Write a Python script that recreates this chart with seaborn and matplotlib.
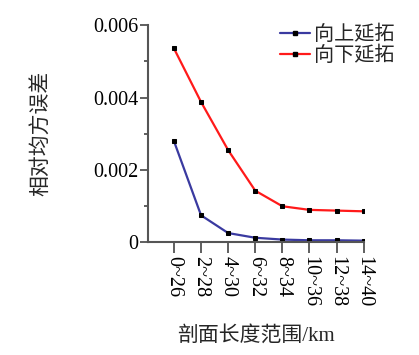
import pandas as pd
import matplotlib.pyplot as plt
import matplotlib.ticker as mticker
from matplotlib.lines import Line2D
import seaborn as sns

# data
ranges = ['0~26', '2~28', '4~30', '6~32', '8~34', '10~36', '12~38', '14~40']
upward = [0.00280, 0.00075, 0.00026, 0.00013, 0.00008, 0.00006, 0.00006, 0.00005]
downward = [0.00536, 0.00388, 0.00255, 0.00143, 0.00100, 0.00090, 0.00088, 0.00086]
series_names = ['向上延拓', '向下延拓']
y_ticks = [0, 0.002, 0.004, 0.006]
y_tick_labels = ['0', '0.002', '0.004', '0.006']

df = pd.DataFrame({
    'pos': list(range(len(ranges))) * 2,
    'err': upward + downward,
    'series': [series_names[0]] * len(ranges) + [series_names[1]] * len(ranges),
})

sns.set_theme(style="ticks")
plt.rcParams['font.family'] = ['Liberation Serif', 'Noto Sans CJK SC']
plt.rcParams['axes.unicode_minus'] = False

fig = plt.figure(figsize=(4.19, 3.55), dpi=100)
ax = fig.add_axes([0.353, 0.317, 0.515, 0.612])

palette = {series_names[0]: '#3a3aa0', series_names[1]: '#ff1a1a'}
sns.lineplot(data=df, x='pos', y='err', hue='series', palette=palette,
             marker='s', markersize=2.8, markeredgecolor='black',
             markerfacecolor='black', linewidth=1.6, ax=ax, legend=False)

ax.set_xlim(-0.96, 7)
ax.set_ylim(0, 0.006)
ax.set_xticks(range(len(ranges)))
ax.set_xticklabels(ranges, rotation=-90, fontsize=14.5)
ax.set_yticks(y_ticks)
ax.set_yticklabels(y_tick_labels, fontsize=14.5)
ax.yaxis.set_minor_locator(mticker.MultipleLocator(0.001))
ax.tick_params(axis='y', which='major', direction='out', length=6,
               width=1.2, color='#444444', pad=1, labelcolor='black')
ax.tick_params(axis='x', which='major', direction='out', length=8,
               width=1.2, color='#444444', pad=2, labelcolor='black')
ax.tick_params(axis='y', which='minor', direction='out', length=3,
               width=1.2, color='#444444')

for side in ['top', 'right']:
    ax.spines[side].set_visible(False)
for side in ['left', 'bottom']:
    ax.spines[side].set_color('#555555')
    ax.spines[side].set_linewidth(1.5)

ax.set_xlabel('剖面长度范围/km', fontsize=15, labelpad=13)
ax.set_ylabel('相对均方误差', fontsize=15, labelpad=30)

handles = [Line2D([], [], color=palette[n], lw=1.6, marker='s', markersize=2.8,
                  markerfacecolor='black', markeredgecolor='black')
           for n in series_names]
fig.legend(handles, series_names, loc='upper left',
           bbox_to_anchor=(280 / 419, 1 - 26 / 355), frameon=False,
           fontsize=14.5, handlelength=1.5, handletextpad=0.2,
           labelspacing=0.05, borderpad=0, borderaxespad=0)

fig.savefig('out.png', dpi=100)
